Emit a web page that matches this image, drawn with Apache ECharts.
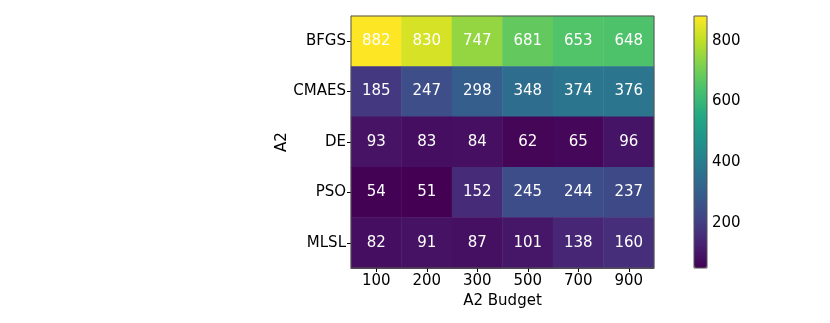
<!DOCTYPE html>
<html>
<head>
<meta charset="utf-8">
<script src="https://cdn.jsdelivr.net/npm/echarts@6/dist/echarts.min.js"></script>
<style>
  html, body { margin: 0; padding: 0; background: #fff; }
  #main { width: 830px; height: 323px; }
</style>
</head>
<body>
<div id="main"></div>
<script>
// budgets along x, methods down y
const budgets = ['100', '200', '300', '500', '700', '900'];
const methods = ['BFGS', 'CMAES', 'DE', 'PSO', 'MLSL'];
const bfgs  = [882, 830, 747, 681, 653, 648];
const cmaes = [185, 247, 298, 348, 374, 376];
const de    = [93, 83, 84, 62, 65, 96];
const pso   = [54, 51, 152, 245, 244, 237];
const mlsl  = [82, 91, 87, 101, 138, 160];
const colorbarTicks = [200, 400, 600, 800];

const rows = [bfgs, cmaes, de, pso, mlsl];
const vmin = 51, vmax = 882;

// viridis
const viridis = ['#440154', '#482475', '#414487', '#355f8d', '#2a788e', '#21918c',
  '#22a884', '#44bf70', '#7ad151', '#bddf26', '#fde725'];

let cells = [];
rows.forEach(function (r, j) {
  r.forEach(function (v, i) { cells.push([i, j, v]); });
});

const font = 'DejaVu Sans';
const axisGrey = '#555';

let myChart = echarts.init(document.getElementById('main'));
let option = {
  animation: false,
  textStyle: { fontFamily: font },
  grid: [
    { left: 351, top: 16, width: 303, height: 252 },
    { left: 694, top: 16, width: 13, height: 252 }
  ],
  xAxis: [
    {
      type: 'category', data: budgets, gridIndex: 0,
      name: 'A2 Budget', nameLocation: 'middle', nameGap: 20,
      nameTextStyle: { fontSize: 15, color: '#000', fontFamily: font },
      axisLine: { show: true, lineStyle: { color: axisGrey } },
      axisTick: { show: true, alignWithLabel: true, length: 4, lineStyle: { color: '#000' } },
      axisLabel: { fontSize: 15, color: '#000', margin: 6, fontFamily: font },
      splitLine: { show: false }
    },
    { type: 'value', gridIndex: 1, show: false, min: 0, max: 1 }
  ],
  yAxis: [
    {
      type: 'category', data: methods, gridIndex: 0, inverse: true,
      name: 'A2', nameLocation: 'middle', nameGap: 57, nameRotate: 90,
      nameTextStyle: { fontSize: 15, color: '#000', fontFamily: font },
      axisLine: { show: true, lineStyle: { color: axisGrey } },
      axisTick: { show: true, alignWithLabel: true, length: 4, lineStyle: { color: '#000' } },
      axisLabel: { fontSize: 15, color: '#000', margin: 5, fontFamily: font },
      splitLine: { show: false }
    },
    {
      type: 'value', gridIndex: 1, position: 'right', min: vmin, max: vmax,
      axisLine: { show: false },
      axisTick: { show: true, length: 4, customValues: colorbarTicks, lineStyle: { color: '#000' } },
      axisLabel: { fontSize: 15, color: '#000', margin: 5, fontFamily: font, customValues: colorbarTicks },
      splitLine: { show: false }
    }
  ],
  visualMap: {
    type: 'continuous', min: vmin, max: vmax, seriesIndex: 0,
    calculable: false, orient: 'vertical',
    left: 694, top: 16, itemWidth: 13, itemHeight: 252, padding: 0,
    text: null, showLabel: false,
    inRange: { color: viridis }
  },
  series: [{
    type: 'heatmap', xAxisIndex: 0, yAxisIndex: 0,
    data: cells,
    label: { show: true, color: '#fff', fontSize: 15, fontFamily: font },
    itemStyle: { borderWidth: 0 },
    emphasis: { disabled: true }
  }],
  graphic: [
    { type: 'rect', z: 100, shape: { x: 351, y: 16, width: 303, height: 252 },
      style: { fill: 'none', stroke: axisGrey, lineWidth: 1 } },
    { type: 'rect', z: 100, shape: { x: 694, y: 16, width: 13, height: 252 },
      style: { fill: 'none', stroke: axisGrey, lineWidth: 1 } }
  ]
};
myChart.setOption(option);
</script>
</body>
</html>
